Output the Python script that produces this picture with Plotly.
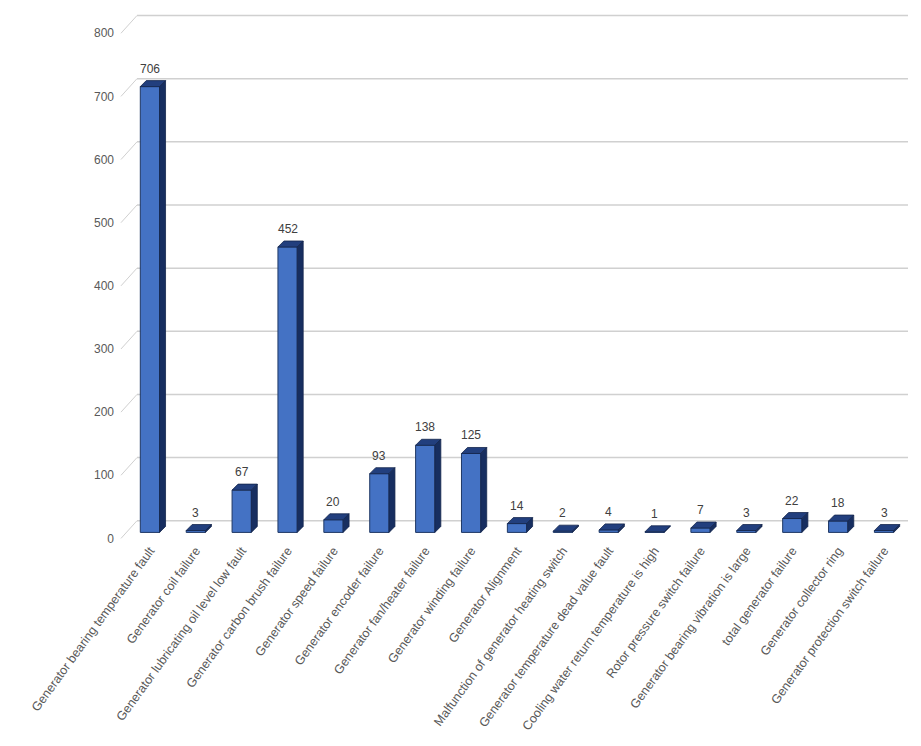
import plotly.graph_objects as go

# Datos
categories = [
    "Generator bearing temperature fault",
    "Generator coil failure",
    "Generator lubricating oil level low fault",
    "Generator carbon brush failure",
    "Generator speed failure",
    "Generator encoder failure",
    "Generator fan/heater failure",
    "Generator winding failure",
    "Generator Alignment",
    "Malfunction of generator heating switch",
    "Generator temperature dead value fault",
    "Cooling water return temperature is high",
    "Rotor pressure switch failure",
    "Generator bearing vibration is large",
    "total generator failure",
    "Generator collector ring",
    "Generator protection switch failure",
]
counts = [706, 3, 67, 452, 20, 93, 138, 125, 14, 2, 4, 1, 7, 3, 22, 18, 3]
y_ticks = [0, 100, 200, 300, 400, 500, 600, 700, 800]

# estilo (efecto 3D tipo Excel)
depth = 9.5        # profundidad vertical (unidades eje y)
dx = 0.13          # profundidad horizontal (unidades de categoría)
grid_shift = 18.5  # rejilla dibujada "al fondo"
front_col = "#4472C4"
top_col = "#223F7E"
side_col = "#172E60"
bar_w = 0.42
hw = bar_w / 2

fig = go.Figure()

# cara frontal
fig.add_trace(go.Bar(
    x=categories, y=counts, base=0,
    width=bar_w,
    marker=dict(color=front_col, line=dict(color="#1F3864", width=1)),
    showlegend=False,
))

# caras superior y lateral (a partir de los datos, en coordenadas del eje)
for i, v in enumerate(counts):
    fig.add_shape(type="path", xref="x", yref="y", layer="above",
                  path=f"M {i-hw},{v} L {i+hw},{v} L {i+hw+dx},{v+depth} L {i-hw+dx},{v+depth} Z",
                  fillcolor=top_col, line=dict(color="#14264d", width=0.8))
    fig.add_shape(type="path", xref="x", yref="y", layer="above",
                  path=f"M {i+hw},0 L {i+hw+dx},{depth} L {i+hw+dx},{v+depth} L {i+hw},{v} Z",
                  fillcolor=side_col, line=dict(color="#14264d", width=0.8))

# etiquetas de datos
for c, v in zip(categories, counts):
    fig.add_annotation(x=c, y=v, text=str(v), showarrow=False,
                       yanchor="bottom", yshift=9,
                       font=dict(family="Liberation Sans Narrow, Liberation Sans, sans-serif",
                                 size=12, color="#404040"))

# rejilla desplazada + conectores diagonales
for t in y_ticks:
    fig.add_shape(type="line", xref="paper", yref="y", layer="below",
                  x0=0.0128, x1=1.0013, y0=t + grid_shift, y1=t + grid_shift,
                  line=dict(color="#D0D0D0", width=1.5))
    fig.add_shape(type="line", xref="paper", yref="y", layer="below",
                  x0=-0.0077, x1=0.0128, y0=t - 9.5, y1=t + grid_shift,
                  line=dict(color="#D0D0D0", width=1))

# la página añade 8px de margen al body: se compensa aquí
fig.update_layout(
    width=905, height=730,
    margin=dict(l=119, r=6, t=2, b=198),
    plot_bgcolor="white", paper_bgcolor="white",
    xaxis=dict(
        range=[-0.5, 16.5], showgrid=False, showline=False, zeroline=False,
        ticks="", tickangle=-54,
        tickfont=dict(family="Liberation Sans, sans-serif", size=12.5, color="#595959"),
    ),
    yaxis=dict(
        range=[-12, 827.3], tickvals=y_ticks, showgrid=False, zeroline=False,
        showline=False, ticks="", ticklabelshift=6, ticklabelstandoff=12,
        tickfont=dict(family="Liberation Sans Narrow, Liberation Sans, sans-serif",
                      size=12, color="#595959"),
    ),
)

fig.write_html("out.html")
